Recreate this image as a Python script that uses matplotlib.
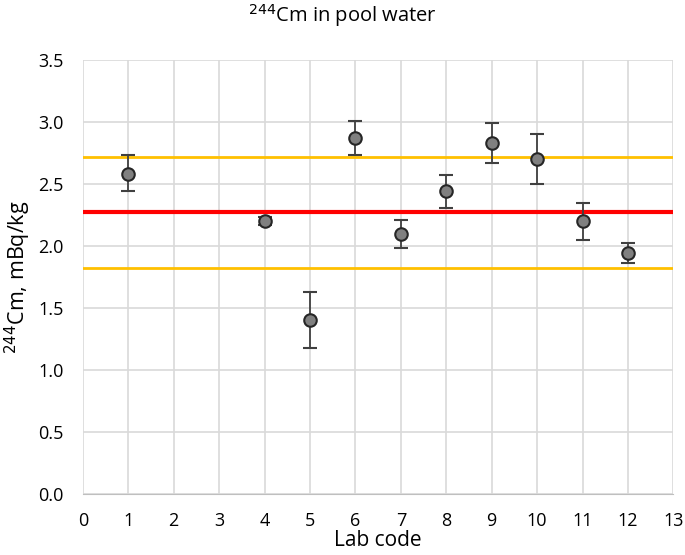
import matplotlib.pyplot as plt
import numpy as np

labs = [1, 4, 5, 6, 7, 8, 9, 10, 11, 12]
values = [2.58, 2.20, 1.40, 2.87, 2.10, 2.44, 2.83, 2.70, 2.20, 1.94]
err_lo = [0.14, 0.03, 0.22, 0.14, 0.12, 0.13, 0.16, 0.20, 0.15, 0.08]
err_hi = [0.15, 0.03, 0.23, 0.14, 0.11, 0.13, 0.16, 0.20, 0.15, 0.08]
ref_value = 2.27
ref_band = 0.45

plt.rcParams['font.family'] = ['Open Sans', 'DejaVu Sans']

fig = plt.figure(figsize=(6.85, 5.55), dpi=100)
ax = fig.add_axes([0.121, 0.110, 0.862, 0.782])

ax.axhline(ref_value + ref_band, color='#ffc000', lw=2, zorder=2)
ax.axhline(ref_value - ref_band, color='#ffc000', lw=2, zorder=2)
ax.axhline(ref_value, color='#ff0000', lw=3, zorder=2)

ax.errorbar(labs, values, yerr=[err_lo, err_hi], fmt='o', ms=9,
            mfc='#808080', mec='#262626', mew=1.5,
            ecolor='#404040', elinewidth=1.3, capsize=5, capthick=1.3, zorder=3)

ax.set_xlim(0, 13)
ax.set_ylim(0, 3.5)
ax.set_xticks(np.arange(0, 14, 1))
ax.set_yticks(np.arange(0, 3.51, 0.5))
ax.yaxis.set_major_formatter(plt.FormatStrFormatter('%.1f'))
ax.grid(True, color='#d9d9d9', lw=1.2, zorder=0)
ax.set_axisbelow(True)
for s in ['top', 'right', 'left']:
    ax.spines[s].set_visible(False)
ax.spines['bottom'].set_color('#bfbfbf')
ax.tick_params(length=0, labelsize=13, colors='#000000')
ax.tick_params(axis='y', pad=14)
ax.tick_params(axis='x', pad=13)

ax.set_xlabel('Lab code', fontsize=15, labelpad=0)
ax.set_ylabel('$^{244}$Cm, mBq/kg', fontsize=15.5, labelpad=4)
fig.suptitle('$^{244}$Cm in pool water', fontsize=14.5, y=0.997)

fig.savefig('out.png', dpi=100)
